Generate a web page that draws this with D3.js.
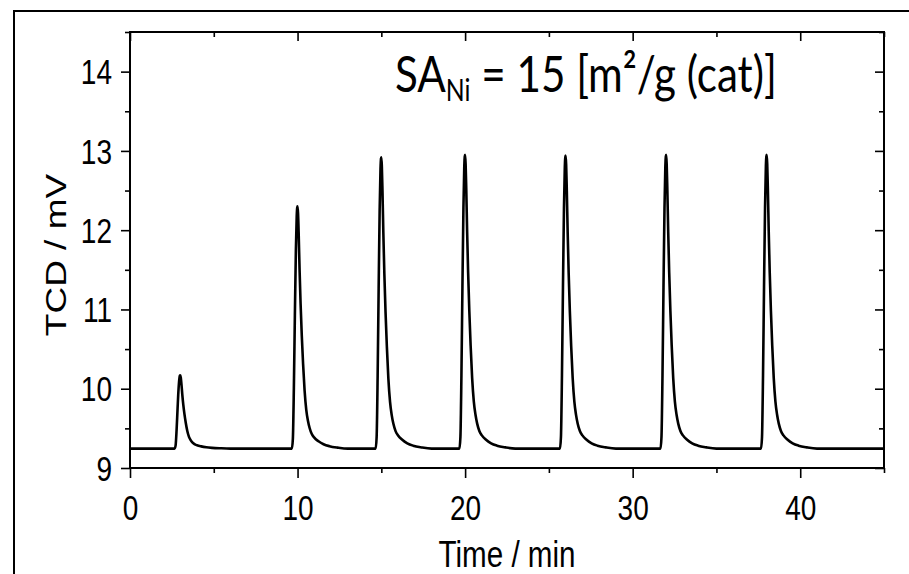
<!DOCTYPE html>
<html>
<head>
<meta charset="utf-8">
<script src="https://cdn.jsdelivr.net/npm/d3@7"></script>
<style>
  html, body { margin: 0; padding: 0; background: #fff; }
  svg { display: block; }
</style>
</head>
<body>
<svg id="chart" width="909" height="574"></svg>
<script>
// TCD signal of successive pulse injections
const peakTimes   = [3, 10, 15, 20, 26, 32, 38];               // min
const peakHeights = [10.17, 12.30, 12.92, 12.95, 12.94, 12.95, 12.95]; // mV
const baselineLevel = 9.245;                                   // mV
// shape of one pulse: time from apex (min) and fraction of peak height
const pulseOffsets   = [-0.34, -0.28, -0.22, -0.16, -0.10, -0.05, -0.02, 0, 0.03, 0.07, 0.12, 0.18, 0.25, 0.33, 0.42, 0.52, 0.62, 0.72, 0.85, 1.0, 1.25, 1.55, 1.9, 2.4, 3.0];
const pulseFractions = [0, 0.04, 0.25, 0.55, 0.82, 0.96, 0.995, 1, 0.97, 0.88, 0.74, 0.6, 0.47, 0.35, 0.24, 0.16, 0.115, 0.085, 0.06, 0.045, 0.03, 0.018, 0.01, 0.004, 0];
const xTicks = [0, 10, 20, 30, 40];
const xMinorTicks = [5, 15, 25, 35, 45];
const yTicks = [9, 10, 11, 12, 13, 14];
const yMinorTicks = [9.5, 10.5, 11.5, 12.5, 13.5, 14.5];

const svg = d3.select("#chart");
const W = 909, H = 574;
const plotLeft = 130, plotRight = 884, plotTop = 32, plotBottom = 468;

const x = d3.scaleLinear().domain([0, 45]).range([plotLeft, plotRight]);
const y = d3.scaleLinear().domain([9, 14.5]).range([plotBottom, plotTop]);

svg.append("rect").attr("width", W).attr("height", H).attr("fill", "#fff");

// outer frame of the figure
svg.append("rect")
  .attr("x", 14).attr("y", 11).attr("width", 1000).attr("height", 1000)
  .attr("fill", "none").attr("stroke", "#000").attr("stroke-width", 2);

// build the trace from the pulse list
const trace = [[0, baselineLevel]];
peakTimes.forEach((t0, i) => {
  const amp = peakHeights[i] - baselineLevel;
  pulseOffsets.forEach((dt, j) => {
    trace.push([t0 + dt, baselineLevel + pulseFractions[j] * amp]);
  });
});
trace.push([45, baselineLevel]);

const line = d3.line()
  .x(d => x(d[0]))
  .y(d => y(d[1]))
  .curve(d3.curveMonotoneX);

svg.append("path")
  .datum(trace)
  .attr("d", line)
  .attr("fill", "none")
  .attr("stroke", "#000")
  .attr("stroke-width", 2.6)
  .attr("stroke-linejoin", "round");

const tickFont = "'Liberation Sans', Arial, sans-serif";

function styleAxis(g) {
  g.select(".domain").remove();
  g.selectAll("line").attr("stroke", "#000").attr("stroke-width", 1.6);
}

// bottom axis (ticks outward)
const gx = svg.append("g").attr("transform", `translate(0,${plotBottom})`)
  .call(d3.axisBottom(x).tickValues(xTicks).tickSize(10).tickFormat(d3.format("d")));
styleAxis(gx);
gx.selectAll("text")
  .attr("y", 52).attr("dy", 0)
  .attr("transform", "scale(0.8,1)")
  .style("font-family", tickFont).style("font-size", "35px").attr("fill", "#000");
const gxm = svg.append("g").attr("transform", `translate(0,${plotBottom})`)
  .call(d3.axisBottom(x).tickValues(xMinorTicks).tickSize(5).tickFormat(""));
styleAxis(gxm);

// top axis (ticks inward)
const gt = svg.append("g").attr("transform", `translate(0,${plotTop})`)
  .call(d3.axisTop(x).tickValues(xTicks).tickSize(-9).tickFormat(""));
styleAxis(gt);
const gtm = svg.append("g").attr("transform", `translate(0,${plotTop})`)
  .call(d3.axisTop(x).tickValues(xMinorTicks).tickSize(-5).tickFormat(""));
styleAxis(gtm);

// left axis (ticks outward)
const gy = svg.append("g").attr("transform", `translate(${plotLeft},0)`)
  .call(d3.axisLeft(y).tickValues(yTicks).tickSize(9).tickFormat(d3.format("d")));
styleAxis(gy);
gy.selectAll("text")
  .attr("x", -18 / 0.8).attr("dy", "0.35em")
  .attr("transform", "scale(0.8,1)")
  .style("font-family", tickFont).style("font-size", "35px").attr("fill", "#000");
const gym = svg.append("g").attr("transform", `translate(${plotLeft},0)`)
  .call(d3.axisLeft(y).tickValues(yMinorTicks).tickSize(5).tickFormat(""));
styleAxis(gym);

// right axis (ticks inward)
const gr = svg.append("g").attr("transform", `translate(${plotRight},0)`)
  .call(d3.axisRight(y).tickValues(yTicks).tickSize(-9).tickFormat(""));
styleAxis(gr);
const grm = svg.append("g").attr("transform", `translate(${plotRight},0)`)
  .call(d3.axisRight(y).tickValues(yMinorTicks).tickSize(-5).tickFormat(""));
styleAxis(grm);

// plot frame
svg.append("rect")
  .attr("x", plotLeft).attr("y", plotTop)
  .attr("width", plotRight - plotLeft).attr("height", plotBottom - plotTop)
  .attr("fill", "none").attr("stroke", "#000").attr("stroke-width", 2);

// axis titles
svg.append("text")
  .attr("transform", "translate(507,567) scale(0.8,1)")
  .attr("text-anchor", "middle")
  .style("font-family", tickFont).style("font-size", "37px")
  .text("Time / min");

svg.append("text")
  .attr("transform", "translate(66,255) rotate(-90) scale(1,0.8)")
  .attr("text-anchor", "middle")
  .style("font-family", tickFont).style("font-size", "37px")
  .text("TCD / mV");

// annotation, stretched to span from x=395 to x=777
const note = svg.append("text")
  .style("font-family", "Lato, 'Open Sans', sans-serif").style("font-size", "51px");
note.append("tspan").text("SA");
note.append("tspan").attr("dy", 9).style("font-size", "30px").text("Ni");
note.append("tspan").attr("dy", -9).text(" = 15 [m\u00B2/g (cat)]");
const nb = note.node().getBBox();
note.attr("transform", `translate(395,92) scale(${382 / nb.width},1) translate(${-nb.x},0)`);
</script>
</body>
</html>
